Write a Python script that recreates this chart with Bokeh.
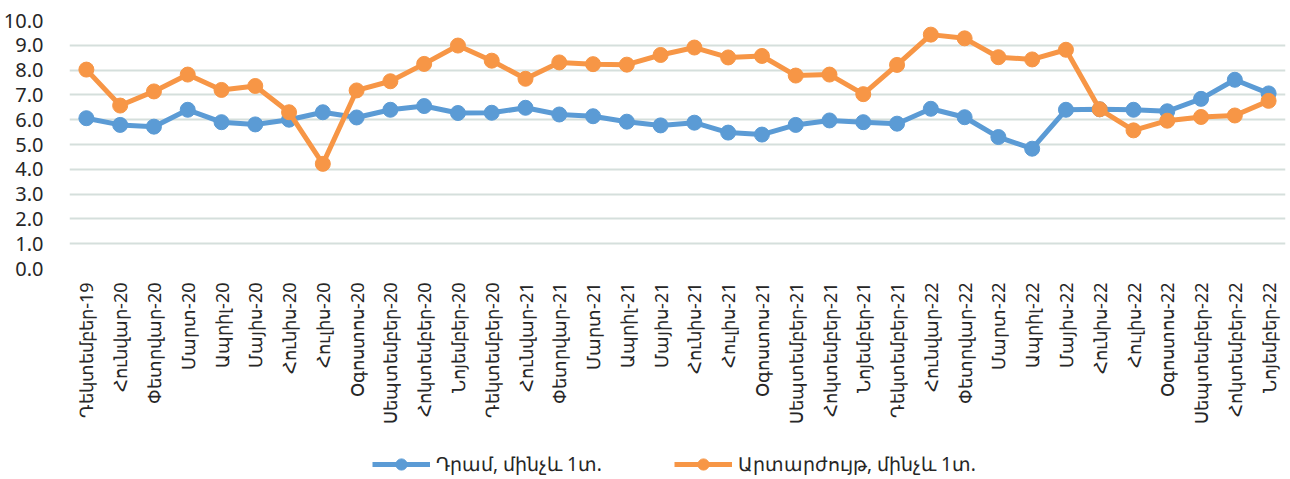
from bokeh.plotting import figure
from bokeh.layouts import column
from bokeh.models import FactorRange, Legend, LegendItem, SingleIntervalTicker, NumeralTickFormatter, Range1d
from bokeh.embed import file_html
from bokeh.resources import INLINE
import math

months = ["Դեկտեմբեր-19",
          "Հունվար-20", "Փետրվար-20", "Մարտ-20", "Ապրիլ-20", "Մայիս-20", "Հունիս-20",
          "Հուլիս-20", "Օգոստոս-20", "Սեպտեմբեր-20", "Հոկտեմբեր-20", "Նոյեմբեր-20", "Դեկտեմբեր-20",
          "Հունվար-21", "Փետրվար-21", "Մարտ-21", "Ապրիլ-21", "Մայիս-21", "Հունիս-21",
          "Հուլիս-21", "Օգոստոս-21", "Սեպտեմբեր-21", "Հոկտեմբեր-21", "Նոյեմբեր-21", "Դեկտեմբեր-21",
          "Հունվար-22", "Փետրվար-22", "Մարտ-22", "Ապրիլ-22", "Մայիս-22", "Հունիս-22",
          "Հուլիս-22", "Օգոստոս-22", "Սեպտեմբեր-22", "Հոկտեմբեր-22", "Նոյեմբեր-22"]

dram = [6.06, 5.79, 5.72, 6.40, 5.90, 5.81, 6.00, 6.30, 6.09, 6.40, 6.55, 6.27,
        6.28, 6.48, 6.21, 6.14, 5.92, 5.77, 5.88, 5.48, 5.40, 5.79, 5.97, 5.90,
        5.84, 6.44, 6.10, 5.30, 4.83, 6.40, 6.42, 6.40, 6.34, 6.84, 7.61, 7.06]

fx = [8.02, 6.57, 7.14, 7.82, 7.20, 7.36, 6.30, 4.22, 7.18, 7.55, 8.25, 8.99,
      8.38, 7.65, 8.31, 8.24, 8.22, 8.61, 8.91, 8.51, 8.57, 7.78, 7.82, 7.03,
      8.21, 9.43, 9.28, 8.52, 8.43, 8.82, 6.42, 5.57, 5.96, 6.11, 6.17, 6.76]

labels = ["Դրամ, մինչև 1տ.", "Արտարժույթ, մինչև 1տ."]
colors = ["#5B9BD5", "#F79646"]

FONT = "Noto Sans"
W = 1286

p = figure(width=W, height=440,
           x_range=FactorRange(factors=months, range_padding=0),
           y_range=Range1d(0, 10), output_backend="svg", toolbar_location=None,
           min_border_left=67, min_border_right=1, min_border_top=20, min_border_bottom=172)
p.outline_line_color = None
p.background_fill_color = "white"

p.xgrid.grid_line_color = None
p.ygrid.grid_line_color = "#D5DFDC"
p.ygrid.grid_line_width = 2

p.yaxis.ticker = SingleIntervalTicker(interval=1)
p.yaxis.formatter = NumeralTickFormatter(format="0.0")
p.yaxis.axis_line_color = None
p.yaxis.major_tick_line_color = None
p.yaxis.minor_tick_line_color = None
p.yaxis.major_tick_out = 0
p.yaxis.major_tick_in = 0
p.yaxis.major_label_text_font = FONT
p.yaxis.major_label_text_font_size = "20px"
p.yaxis.major_label_text_color = "#262626"
p.yaxis.major_label_standoff = 22

p.xaxis.axis_line_color = None
p.xaxis.major_tick_line_color = None
p.xaxis.minor_tick_line_color = None
p.xaxis.major_tick_out = 0
p.xaxis.major_tick_in = 0
p.xaxis.major_label_orientation = math.pi / 2
p.xaxis.major_label_text_font = FONT
p.xaxis.major_label_text_font_size = "18px"
p.xaxis.major_label_text_color = "#262626"
p.xaxis.major_label_standoff = 14

for series, col in zip([dram, fx], colors):
    p.line(months, series, line_color=col, line_width=5)
    p.scatter(months, series, size=15, fill_color=col, line_color=col)

# legend strip: same series drawn off-screen so the legend can show them
lf = figure(width=W, height=38, x_range=FactorRange(factors=months, range_padding=0),
            y_range=Range1d(100, 101), output_backend="svg", toolbar_location=None,
            x_axis_location=None, y_axis_location=None, min_border=0)
lf.grid.visible = False
lf.outline_line_color = None

items = []
for series, lab, col in zip([dram, fx], labels, colors):
    l = lf.line(months, series, line_color=col, line_width=5)
    s = lf.scatter(months, series, size=15, fill_color=col, line_color=col)
    items.append(LegendItem(label=lab, renderers=[l, s]))

legend = Legend(items=items, orientation="horizontal", location=(303, 0),
                label_text_font=FONT, label_text_font_size="19px", label_text_color="#262626",
                glyph_width=58, glyph_height=28, spacing=72, border_line_color=None,
                background_fill_alpha=0, margin=0, padding=0, label_standoff=6,
                label_height=28)
lf.add_layout(legend, "center")

layout = column(p, lf, spacing=0)
open("out.html", "w").write(file_html(layout, INLINE))
